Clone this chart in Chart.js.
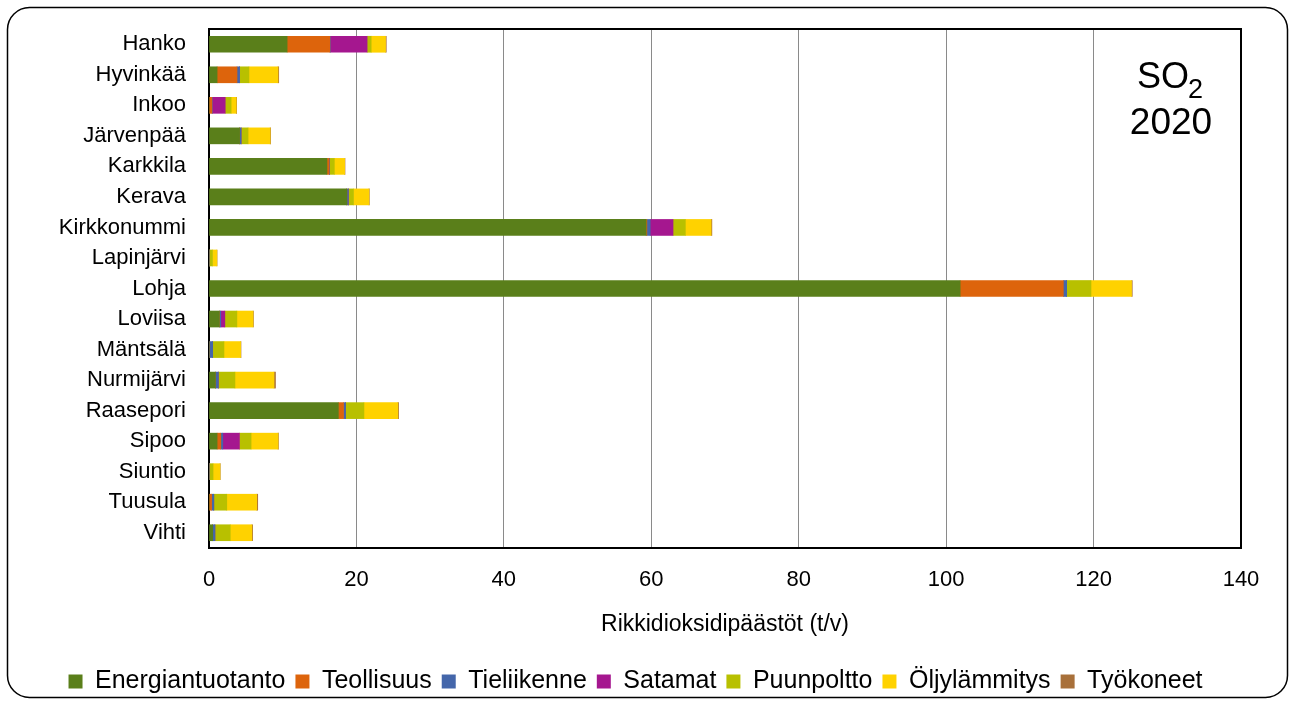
<!DOCTYPE html>
<html>
<head>
<meta charset="utf-8">
<script src="https://cdn.jsdelivr.net/npm/chart.js@4"></script>
<style>
  html, body { margin: 0; padding: 0; background: #fff; }
  #wrap { position: relative; width: 1290px; height: 704px; }
</style>
</head>
<body>
<div id="wrap"><canvas id="chart" width="1290" height="704"></canvas></div>
<script>
// kunnat
const kunnat = ['Hanko', 'Hyvinkää', 'Inkoo', 'Järvenpää', 'Karkkila', 'Kerava', 'Kirkkonummi',
  'Lapinjärvi', 'Lohja', 'Loviisa', 'Mäntsälä', 'Nurmijärvi', 'Raasepori', 'Sipoo', 'Siuntio',
  'Tuusula', 'Vihti'];

// päästöt t/v, luettu kuvasta
const energiantuotanto = [10.6, 1.1, 0, 4.15, 16.0, 18.7, 59.3, 0, 101.9, 1.4, 0, 0.86, 17.55, 1.1, 0, 0, 0.5];
const teollisuus = [5.8, 2.7, 0.4, 0, 0.3, 0, 0.1, 0, 14.0, 0, 0, 0, 0.7, 0.5, 0, 0.35, 0];
const tieliikenne = [0.05, 0.35, 0.05, 0.2, 0.05, 0.2, 0.45, 0.02, 0.45, 0.2, 0.5, 0.4, 0.27, 0.27, 0.05, 0.3, 0.3];
const satamat = [5.0, 0, 1.75, 0, 0, 0, 3.1, 0, 0, 0.55, 0, 0, 0, 2.26, 0, 0, 0];
const puunpoltto = [0.55, 1.27, 0.8, 0.95, 0.65, 0.7, 1.67, 0.45, 3.3, 1.63, 1.53, 2.26, 2.5, 1.58, 0.5, 1.76, 2.08];
const oljylammitys = [1.95, 3.94, 0.7, 3.0, 1.4, 2.1, 3.5, 0.6, 5.5, 2.2, 2.26, 5.3, 4.6, 3.66, 0.95, 4.07, 2.94];
const tyokoneet = [0.1, 0.1, 0.05, 0.05, 0.05, 0.05, 0.1, 0.02, 0.1, 0.05, 0.05, 0.2, 0.1, 0.05, 0.02, 0.13, 0.1];

const xTicks = [0, 20, 40, 60, 80, 100, 120, 140];

const FONT = '"Liberation Sans", Arial, sans-serif';

// reunukset ja SO2-teksti
const koristeet = {
  id: 'koristeet',
  afterDraw(chart) {
    const ctx = chart.ctx;
    const a = chart.chartArea;
    ctx.save();
    // kuvaajan kehys ylä ja oikea
    ctx.strokeStyle = '#000';
    ctx.lineWidth = 2;
    ctx.beginPath();
    ctx.moveTo(a.left, a.top);
    ctx.lineTo(a.right, a.top);
    ctx.lineTo(a.right, a.bottom);
    ctx.stroke();
    // ulkoreunus
    ctx.lineWidth = 1.5;
    ctx.beginPath();
    ctx.roundRect(7.5, 7.5, 1280, 690, 22);
    ctx.stroke();
    // SO2 2020
    ctx.fillStyle = '#000';
    ctx.textBaseline = 'alphabetic';
    ctx.textAlign = 'left';
    ctx.font = '36px ' + FONT;
    ctx.fillText('SO', 1137, 88);
    ctx.font = '27px ' + FONT;
    ctx.fillText('2', 1188, 98);
    ctx.font = '37px ' + FONT;
    ctx.textAlign = 'center';
    ctx.fillText('2020', 1171, 134);
    ctx.restore();
  }
};

new Chart(document.getElementById('chart'), {
  type: 'bar',
  data: {
    labels: kunnat,
    datasets: [
      { label: 'Energiantuotanto', data: energiantuotanto, backgroundColor: '#5A7F1A' },
      { label: 'Teollisuus', data: teollisuus, backgroundColor: '#DD640C' },
      { label: 'Tieliikenne', data: tieliikenne, backgroundColor: '#4466AA' },
      { label: 'Satamat', data: satamat, backgroundColor: '#A5178F' },
      { label: 'Puunpoltto', data: puunpoltto, backgroundColor: '#B8C000' },
      { label: 'Öljylämmitys', data: oljylammitys, backgroundColor: '#FFD200' },
      { label: 'Työkoneet', data: tyokoneet, backgroundColor: '#A8703A' }
    ]
  },
  options: {
    indexAxis: 'y',
    responsive: false,
    animation: false,
    barThickness: 16,
    borderWidth: 0,
    layout: { padding: { left: 30, top: 29, right: 49, bottom: 0 } },
    scales: {
      x: {
        stacked: true,
        min: 0,
        max: 140,
        afterBuildTicks(scale) { scale.ticks = xTicks.map(v => ({ value: v })); },
        afterFit(scale) { scale.height = 111; },
        ticks: { color: '#000', padding: 19, font: { family: FONT, size: 22 } },
        grid: { color: '#8a8a8a', lineWidth: 1, drawTicks: false },
        border: { color: '#000', width: 2 },
        title: {
          display: true,
          text: 'Rikkidioksidipäästöt (t/v)',
          color: '#000',
          font: { family: FONT, size: 23 },
          padding: { top: 0, bottom: 21 }
        }
      },
      y: {
        stacked: true,
        afterFit(scale) {
          scale.width = 179;
          scale.paddingTop = 0;
          scale.paddingBottom = 0;
        },
        ticks: { color: '#000', padding: 23, font: { family: FONT, size: 22 } },
        grid: { display: false, drawTicks: false },
        border: { color: '#000', width: 2 }
      }
    },
    plugins: {
      legend: {
        position: 'bottom',
        labels: {
          color: '#000',
          boxWidth: 14,
          boxHeight: 14,
          padding: 10,
          font: { family: FONT, size: 25 }
        }
      },
      tooltip: { enabled: false }
    }
  },
  plugins: [koristeet]
});
</script>
</body>
</html>
